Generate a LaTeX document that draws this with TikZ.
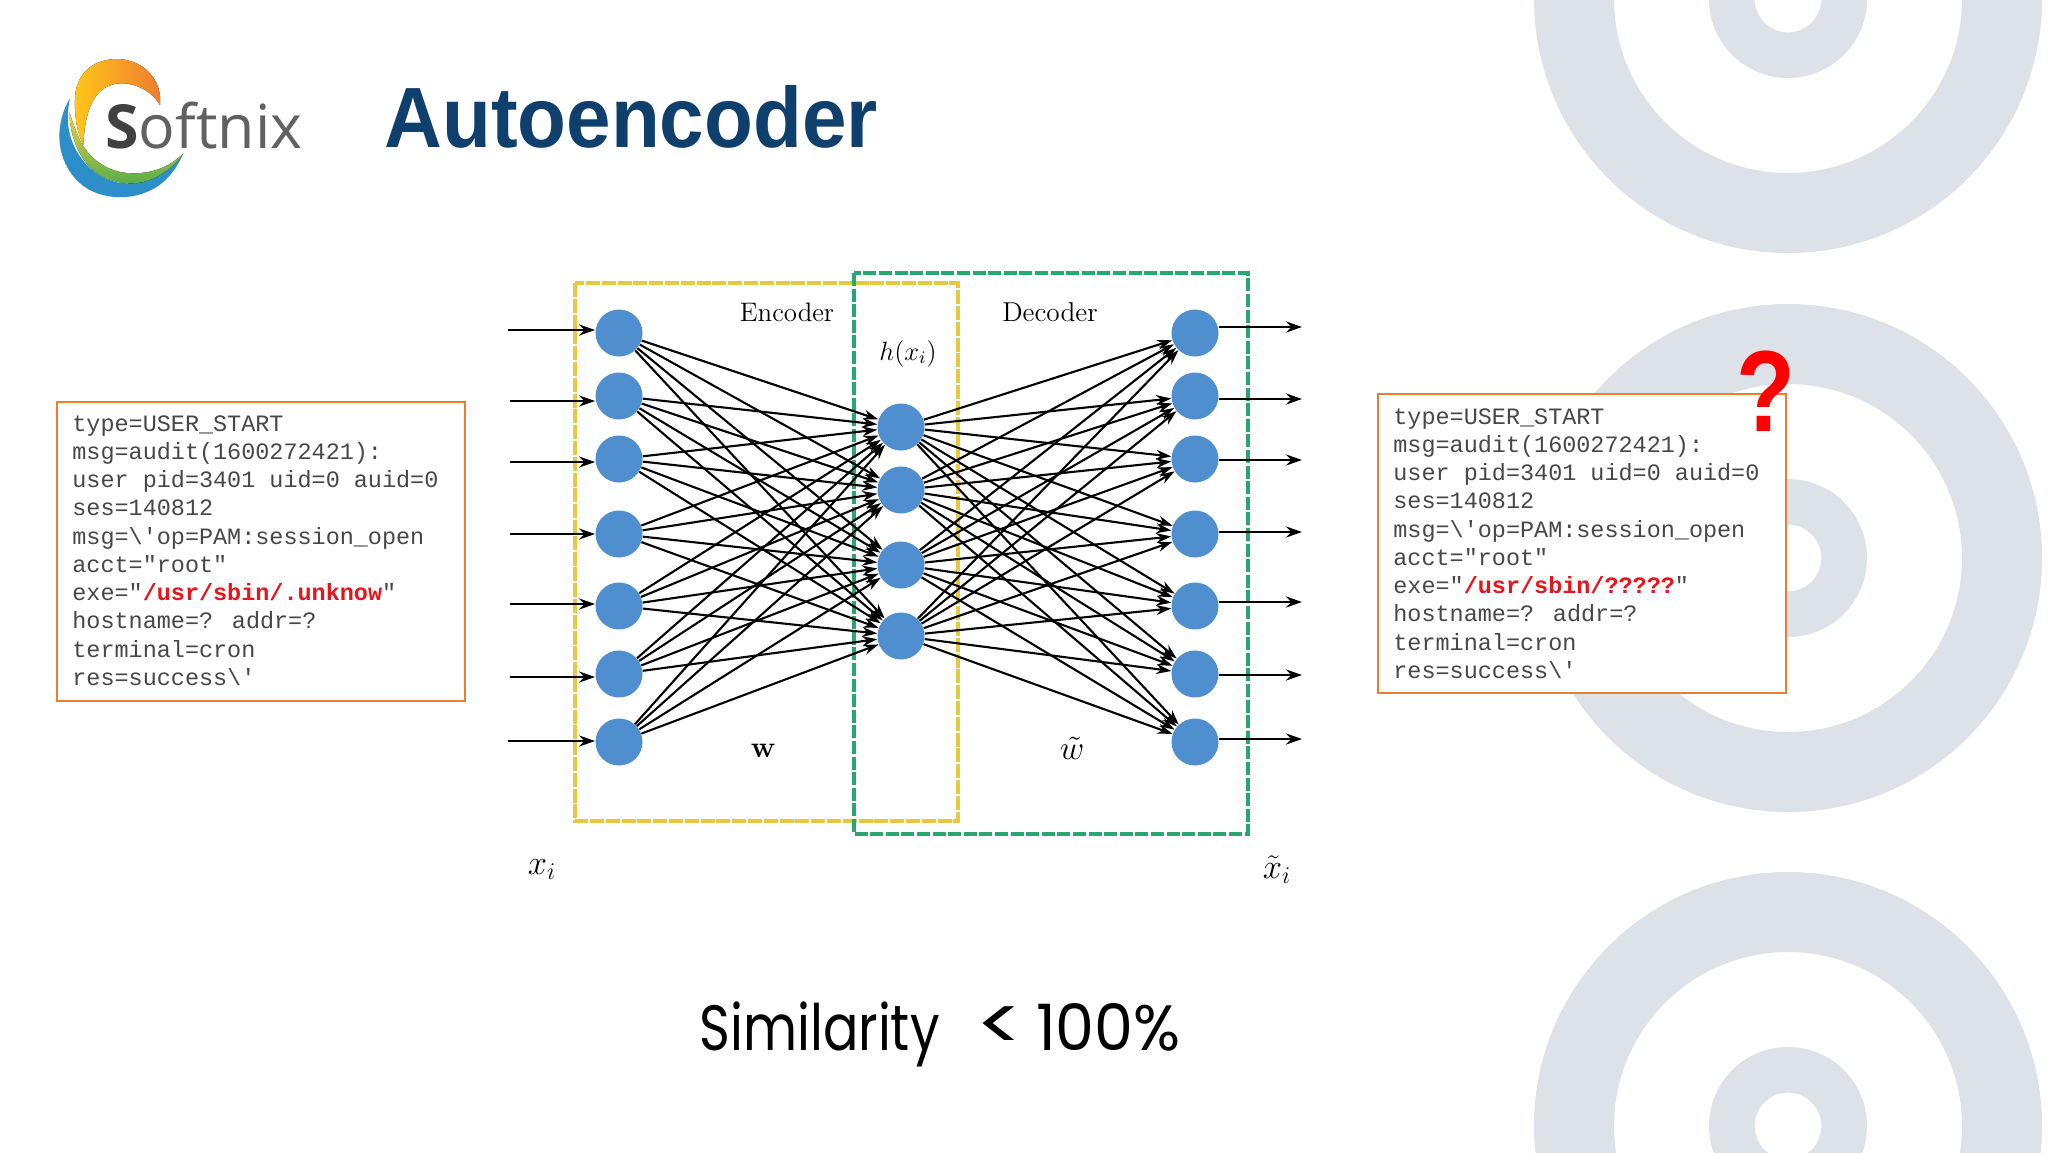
\documentclass[tikz,border=0pt]{standalone}
\usepackage{fontspec}
\usetikzlibrary{arrows.meta}
\newfontfamily\logfont{Liberation Mono}
\newfontfamily\titlefont{Liberation Sans}
\newfontfamily\logofont{Open Sans}
\newfontfamily\simfont[FakeStretch=0.82]{Poppins}
\definecolor{ringc}{HTML}{DCE2E8}
\definecolor{titlec}{HTML}{0F3F6C}
\definecolor{boxor}{HTML}{ED7D31}
\definecolor{yel}{HTML}{E8C840}
\definecolor{grn}{HTML}{2AA673}
\definecolor{nodeb}{HTML}{4F8FD0}
\definecolor{redt}{HTML}{E8141C}
\definecolor{logoblue}{HTML}{2C8FC9}
\definecolor{logoyel}{HTML}{F0D040}
\definecolor{logogrn}{HTML}{59AE4A}
\definecolor{logoamb}{HTML}{FFC61A}
\definecolor{logoorg}{HTML}{EE7B30}
\tikzset{
  neuron/.style={circle,fill=nodeb,inner sep=0pt,minimum size=23.5pt},
  wire/.style={black,line width=1.05pt,-{Stealth[length=7.5pt,width=5pt]}},
  inarrow/.style={black,line width=1.4pt,-{Stealth[length=8pt,width=5.5pt]}},
  logbox/.style={draw=boxor,line width=1.2pt,fill=white,minimum width=204pt,minimum height=149.5pt,inner sep=0pt,anchor=north west},
  logtext/.style={font=\logfont\fontsize{11.73pt}{14.12pt}\selectfont,text=black!72,align=left,inner sep=0pt,anchor=north west},
  lbl/.style={inner sep=0pt,anchor=base,text=black}
}
\newcommand{\hotpath}[1]{\textcolor{redt}{\bfseries #1}}
\begin{document}
\begin{tikzpicture}[x=0.5pt,y=-0.5pt]
\path[use as bounding box,fill=white] (0,0) rectangle (2048,1152);
\begin{scope}
\clip (0,0) rectangle (2048,1152);
\foreach \cy in {-1,558,1126}{
  \fill[ringc,even odd rule] (1788,\cy) circle[radius=127pt] (1788,\cy) circle[radius=87pt]
       (1788,\cy) circle[radius=39.5pt] (1788,\cy) circle[radius=16.7pt];
}
\end{scope}
% logo
\begin{scope}[shift={(40,40)},x=0.16667pt,y=-0.16667pt]
\fill[logoblue]
  (90,175) .. controls (50,240) and (40,340) .. (105,415) .. controls (165,485) and (290,490) .. (365,430)
  .. controls (395,405) and (415,375) .. (430,340) .. controls (385,400) and (310,428) .. (260,430)
  .. controls (180,430) and (100,360) .. (85,260) .. controls (82,230) and (84,200) .. (90,175) -- cycle;
\fill[top color=logoyel,bottom color=logogrn]
  (88,215) .. controls (90,300) and (130,430) .. (275,430) .. controls (340,430) and (400,385) .. (430,340)
  .. controls (390,380) and (340,400) .. (280,400) .. controls (190,400) and (135,340) .. (115,290)
  .. controls (105,265) and (95,240) .. (88,215) -- cycle;
\fill[left color=logoamb,right color=logoorg]
  (360,195) .. controls (368,120) and (310,55) .. (225,57) .. controls (150,60) and (105,110) .. (105,180)
  .. controls (103,230) and (112,280) .. (130,315) .. controls (133,240) and (150,130) .. (245,130)
  .. controls (295,130) and (340,160) .. (360,195) -- cycle;
\end{scope}
\node[inner sep=0pt,anchor=base west,font=\logofont\fontsize{30.4pt}{30pt}\selectfont,text=black!62] (logo) at (105,148) {\textcolor{black!75}{\bfseries S}oftnix};
% title
\node[inner sep=0pt,anchor=base west,font=\titlefont\bfseries\fontsize{40pt}{40pt}\selectfont,text=titlec] (title) at (384,147) {\scalebox{1}[1.07]{Autoencoder}};
% dashed frames
\draw[yel,line width=2.2pt,dash pattern=on 7pt off .9pt] (575,283) rectangle (958,821);
\draw[grn,line width=2.2pt,dash pattern=on 6.5pt off 1.3pt] (854,273) rectangle (1248,834);
% neurons
\foreach \i/\y in {1/333,2/396,3/459,4/534,5/606,6/674,7/742}{
  \node[neuron] (L\i) at (619,\y) {};
  \node[neuron] (R\i) at (1195,\y) {};
}
\foreach \i/\y in {1/427,2/490,3/565,4/636}{
  \node[neuron] (H\i) at (901,\y) {};
}
% free ends
\foreach \i/\x/\y in {1/508/330,2/510/401,3/510/462,4/510/534,5/510/604,6/510/677,7/508/741}{
  \coordinate (in\i) at (\x,\y);
  \draw[inarrow] (in\i) -- (in\i -| L\i.west);
}
\foreach \i/\y in {1/327,2/399,3/460,4/532,5/602,6/675,7/739}{
  \coordinate (out\i) at (1302,\y);
  \draw[inarrow] (out\i -| R\i.east) -- (out\i);
}
% connections
\foreach \a in {1,...,7}{
  \foreach \b in {1,...,4}{
    \draw[wire] (L\a) -- (H\b);
    \draw[wire] (H\b) -- (R\a);
  }
}
% labels
\node[lbl,font=\fontsize{13pt}{13pt}\selectfont] (enc) at (787,321) {\scalebox{1.03}{Encoder}};
\node[lbl,font=\fontsize{13pt}{13pt}\selectfont] (dec) at (1050,321) {\scalebox{1.05}{Decoder}};
\node[lbl,font=\fontsize{12pt}{12pt}\selectfont] (hx) at (908,360) {\scalebox{1.1}{$h(x_i)$}};
\node[lbl,font=\bfseries\fontsize{12pt}{12pt}\selectfont] (wl) at (763,757) {\scalebox{1.25}{w}};
\node[lbl,font=\fontsize{12pt}{12pt}\selectfont] (wt) at (1072,759) {\scalebox{1.4}{$\tilde{w}$}};
\node[lbl,font=\fontsize{17.28pt}{17.28pt}\selectfont] (xi) at (542,874) {$x_i$};
\node[lbl,font=\fontsize{17.28pt}{17.28pt}\selectfont] (xt) at (1277,878) {$\tilde{x}_i$};
% logs
\node[logbox] (logL) at (56,400.5) {};
\node[logtext] (logLt) at (72,415) {type=USER\_START\\msg=audit(1600272421):\\user pid=3401 uid=0 auid=0\\ses=140812\\msg=\textbackslash'op=PAM:session\_open\\acct="root"\\exe="\hotpath{/usr/sbin/.unknow}"\\hostname=? addr=?\\terminal=cron\\res=success\textbackslash'};
\node[logbox] (logR) at (1377,393) {};
\node[logtext] (logRt) at (1393,408) {type=USER\_START\\msg=audit(1600272421):\\user pid=3401 uid=0 auid=0\\ses=140812\\msg=\textbackslash'op=PAM:session\_open\\acct="root"\\exe="\hotpath{/usr/sbin/?????}"\\hostname=? addr=?\\terminal=cron\\res=success\textbackslash'};
\node[inner sep=0pt,anchor=base,font=\titlefont\bfseries\fontsize{56pt}{56pt}\selectfont,text=red] (qm) at (1766,431) {\scalebox{.86}[1.03]{?}};
% similarity
\node[inner sep=0pt,anchor=base west,font=\simfont\fontsize{32pt}{32pt}\selectfont,text=black] (sim) at (699,1050) {Similarity\hspace{18pt}\scalebox{1.7}[1.15]{<}\hspace{5.5pt}\scalebox{1.18}[1]{100\%}};
\end{tikzpicture}
\end{document}
